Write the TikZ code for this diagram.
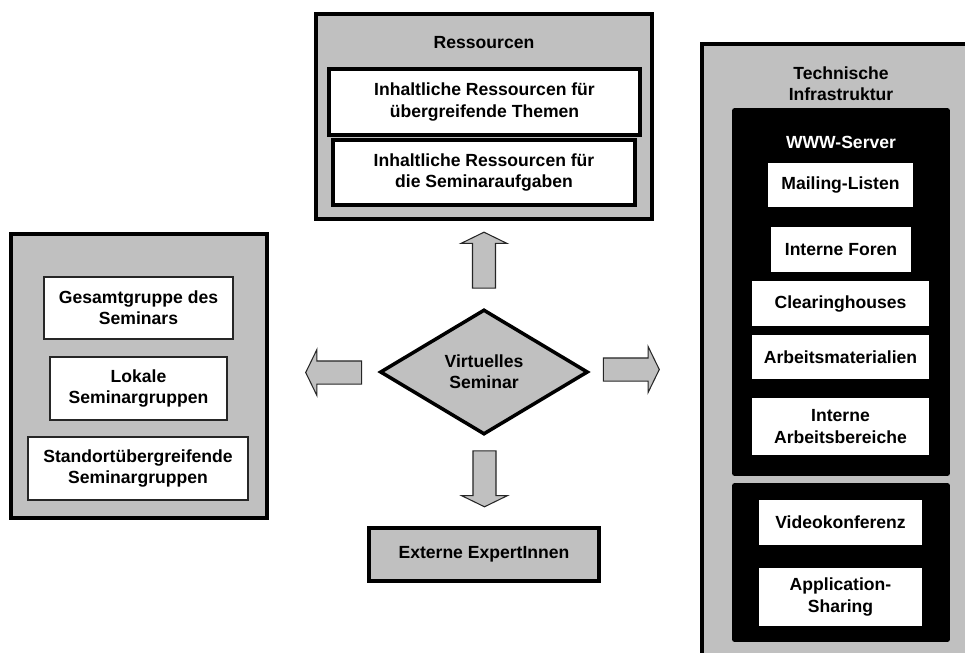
\documentclass[tikz,border=0pt]{standalone}
\usepackage{fontspec}
\setmainfont{Liberation Sans}
\usetikzlibrary{shapes.geometric,shapes.arrows}
\definecolor{panelGray}{RGB}{192,192,192}

\begin{document}
\begin{tikzpicture}[x=0.02cm,y=-0.02cm,
    font=\bfseries\fontsize{10}{12}\selectfont,
    panel/.style={draw,line width=2pt,fill=panelGray,inner sep=0pt},
    whitebox/.style={draw=black!85,line width=0.6pt,fill=white,align=center,inner sep=0pt},
    thickbox/.style={draw,line width=2pt,fill=white,align=center,inner sep=0pt},
    blackbox/.style={fill=black,rounded corners=1.5pt,inner sep=0pt},
    serverbox/.style={fill=white,align=center,inner sep=0pt},
    blockarrow/.style={single arrow,draw=black!85,line width=0.6pt,fill=panelGray,inner sep=0.22cm,
        minimum height=1.12cm,single arrow head extend=0.23cm,single arrow tip angle=128}]
    \useasboundingbox (0,0) rectangle (965,653);

    % Ressourcen
    \node[panel,minimum width=6.72cm,minimum height=4.1cm] (resPanel) at (484,116.5) {};
    \node (resTitle) at (484,43) {Ressourcen};
    \node[thickbox,minimum width=6.22cm,minimum height=1.32cm] (resThemen) at (484.5,102) {Inhaltliche Ressourcen für\\übergreifende Themen};
    \node[thickbox,minimum width=6.04cm,minimum height=1.30cm] (resAufgaben) at (484,172.5) {Inhaltliche Ressourcen für\\die Seminaraufgaben};

    % Seminargruppen
    \node[panel,minimum width=5.12cm,minimum height=5.68cm] (grpPanel) at (139,376) {};
    \node[whitebox,minimum width=3.78cm,minimum height=1.24cm] (grpGesamt) at (138.5,308) {Gesamtgruppe des\\Seminars};
    \node[whitebox,minimum width=3.54cm,minimum height=1.26cm] (grpLokal) at (138.5,388.5) {Lokale\\Seminargruppen};
    \node[whitebox,minimum width=4.40cm,minimum height=1.26cm] (grpStandort) at (138,468.5) {Standortübergreifende\\Seminargruppen};

    % Seminar + arrows
    \node[diamond,draw,line width=2pt,fill=panelGray,minimum width=4.16cm,minimum height=2.5cm,inner sep=0pt,align=center] (seminar) at (484,372) {Virtuelles\\Seminar};
    \node[blockarrow,shape border rotate=90] (arrUp) at (484,263) {};
    \node[blockarrow,shape border rotate=180] (arrLeft) at (336.5,372.5) {};
    \node[blockarrow] (arrRight) at (628.5,369.5) {};
    \node[blockarrow,shape border rotate=270] (arrDown) at (484.5,476) {};

    % Externe
    \node[panel,minimum width=4.6cm,minimum height=1.06cm] (externe) at (484,554.5) {Externe ExpertInnen};

    % Technische Infrastruktur
    \begin{scope}
        \clip (0,0) rectangle (965,653);
        \node[panel,minimum width=5.66cm,minimum height=12.58cm] (techPanel) at (843.5,358.5) {};
    \end{scope}
    \node[align=center] (techTitle) at (841,84) {Technische\\Infrastruktur};
    \node[blackbox,minimum width=4.36cm,minimum height=7.36cm] (www) at (841,292) {};
    \node[text=white] (wwwTitle) at (841,142) {WWW-Server};
    \node[serverbox,minimum width=2.9cm,minimum height=0.88cm] (mailing) at (840.5,185) {Mailing-Listen};
    \node[serverbox,minimum width=2.8cm,minimum height=0.9cm] (foren) at (841,249.5) {Interne Foren};
    \node[serverbox,minimum width=3.54cm,minimum height=0.9cm] (clearing) at (840.5,303.5) {Clearinghouses};
    \node[serverbox,minimum width=3.54cm,minimum height=0.88cm] (material) at (840.5,357) {Arbeitsmaterialien};
    \node[serverbox,minimum width=3.54cm,minimum height=1.14cm] (bereiche) at (840.5,426.5) {Interne\\Arbeitsbereiche};
    \node[blackbox,minimum width=4.36cm,minimum height=3.18cm] (konf) at (841,562.5) {};
    \node[serverbox,minimum width=3.26cm,minimum height=0.9cm] (video) at (840.5,522.5) {Videokonferenz};
    \node[serverbox,minimum width=3.26cm,minimum height=1.16cm] (sharing) at (840.5,597) {Application-\\Sharing};
\end{tikzpicture}
\end{document}
